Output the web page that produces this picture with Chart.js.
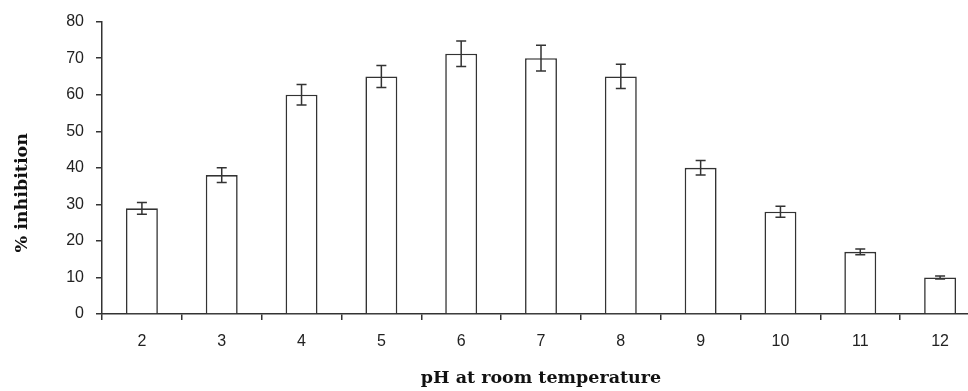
<!DOCTYPE html>
<html>
<head>
<meta charset="utf-8">
<script src="https://cdn.jsdelivr.net/npm/chart.js@4"></script>
<style>
  html, body { margin: 0; padding: 0; background: #fff; overflow: hidden; }
  #wrap { width: 980px; height: 391px; }
</style>
</head>
<body>
<div id="wrap"><canvas id="chart" width="980" height="391"></canvas></div>
<script>
const phLabels = ["2", "3", "4", "5", "6", "7", "8", "9", "10", "11", "12"];
const inhibition = [28.9, 38, 60, 65, 71.2, 70, 65, 40, 28, 17, 10];
const errors = [1.6, 2, 2.8, 3, 3.5, 3.5, 3.3, 2, 1.5, 0.8, 0.4];
const yTicks = [0, 10, 20, 30, 40, 50, 60, 70, 80];

const axisColor = "#333";
const textColor = "#222";
const titleFont = "bold 17.5px 'DejaVu Serif'";

// draws the +/- error whiskers on top of each bar
const errorBars = {
  id: "errorBars",
  afterDatasetsDraw(chart) {
    const ctx = chart.ctx;
    const y = chart.scales.y;
    const meta = chart.getDatasetMeta(0);
    ctx.save();
    ctx.strokeStyle = axisColor;
    ctx.lineWidth = 1.5;
    meta.data.forEach((bar, i) => {
      const top = y.getPixelForValue(inhibition[i] + errors[i]);
      const bot = y.getPixelForValue(inhibition[i] - errors[i]);
      const cap = 5;
      ctx.beginPath();
      ctx.moveTo(bar.x, top);
      ctx.lineTo(bar.x, bot);
      ctx.moveTo(bar.x - cap, top);
      ctx.lineTo(bar.x + cap, top);
      ctx.moveTo(bar.x - cap, bot);
      ctx.lineTo(bar.x + cap, bot);
      ctx.stroke();
    });
    ctx.restore();
  }
};

// y title sits a bit below the middle of the axis in the original
const yTitle = {
  id: "yTitle",
  afterDraw(chart) {
    const ctx = chart.ctx;
    const area = chart.chartArea;
    ctx.save();
    ctx.translate(22, (area.top + area.bottom) / 2 + 25);
    ctx.rotate(-Math.PI / 2);
    ctx.font = titleFont;
    ctx.fillStyle = "#111";
    ctx.textAlign = "center";
    ctx.textBaseline = "middle";
    ctx.fillText("% inhibition", 0, 0);
    ctx.restore();
  }
};

new Chart(document.getElementById("chart"), {
  type: "bar",
  data: {
    labels: phLabels,
    datasets: [{
      data: inhibition,
      backgroundColor: "#fff",
      borderColor: axisColor,
      borderWidth: 1.6,
      barPercentage: 0.5,
      categoryPercentage: 0.8
    }]
  },
  options: {
    responsive: false,
    animation: false,
    layout: { padding: { top: 20, left: 0, right: 0, bottom: 0 } },
    plugins: {
      legend: { display: false },
      tooltip: { enabled: false }
    },
    scales: {
      x: {
        afterFit: (s) => { s.height = 77; },
        grid: {
          offset: true,
          drawOnChartArea: false,
          drawTicks: true,
          tickLength: 6,
          color: axisColor,
          lineWidth: 1.5
        },
        border: { display: true, color: axisColor, width: 1.5 },
        ticks: {
          padding: 12,
          color: textColor,
          font: { family: "Liberation Sans", size: 16 }
        },
        title: {
          display: true,
          text: "pH at room temperature",
          color: "#111",
          font: { family: "DejaVu Serif", size: 17.5, weight: "bold" },
          padding: { top: 0, bottom: 2 }
        }
      },
      y: {
        min: 0,
        max: 80,
        afterFit: (s) => { s.width = 102; },
        afterBuildTicks: (s) => { s.ticks = yTicks.map((v) => ({ value: v })); },
        grid: {
          drawOnChartArea: false,
          drawTicks: true,
          tickLength: 6,
          color: axisColor,
          lineWidth: 1.5
        },
        border: { display: true, color: axisColor, width: 1.5 },
        ticks: {
          padding: 12,
          color: textColor,
          font: { family: "Liberation Sans", size: 16 }
        }
      }
    }
  },
  plugins: [errorBars, yTitle]
});
</script>
</body>
</html>
